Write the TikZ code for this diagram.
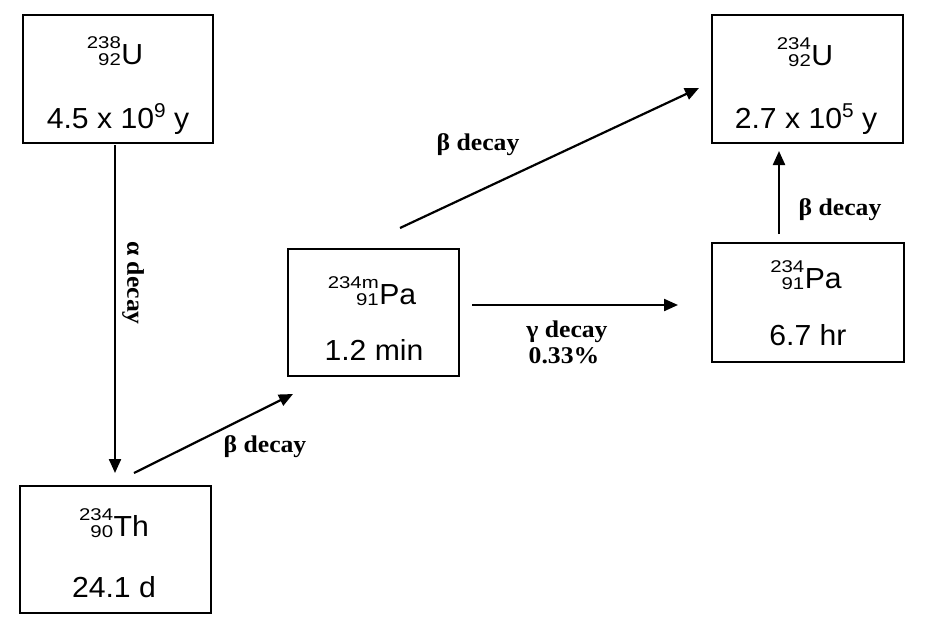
\documentclass[tikz,border=0pt]{standalone}
\usepackage{fontspec}
\setmainfont[FakeStretch=1.04]{Liberation Sans}
\newfontfamily\digfont[FakeStretch=1.2]{Liberation Sans}
\newfontfamily\lblfont[FakeStretch=1.07]{Liberation Serif}
\usetikzlibrary{arrows.meta}
\newcommand\smalldig{\digfont\fontsize{17}{17}\selectfont}
\newcommand\expdig{\fontsize{20}{20}\selectfont}
\newcommand\nuclide[3]{%
 \setbox0=\hbox{\smalldig #1}%
 \setbox2=\hbox{\smalldig #2}%
 \dimen0=\wd0 \ifdim\wd2>\dimen0 \dimen0=\wd2\fi
 \hbox to\dimen0{\hss\raise15.5pt\box0}\kern-\dimen0\hbox to\dimen0{\hss\lower1pt\box2}\kern0.5pt#3}
\newcommand\pw[1]{\raisebox{11pt}{\expdig #1}}
\begin{document}
\begin{tikzpicture}[x=1pt,y=-1pt,
  box/.style={draw=black, line width=2.6pt, inner sep=0pt},
  main/.style={font=\fontsize{29}{34}\selectfont, inner sep=0pt, anchor=base},
  lbl/.style={font=\lblfont\bfseries\fontsize{24}{26}\selectfont, inner sep=0pt, anchor=base},
  arr/.style={line width=2.2pt, -{Triangle[length=14pt,width=12pt]}}]
\useasboundingbox (0,0) rectangle (950,638);
\fill[white] (0,0) rectangle (950,638);
% boxes
\node[box, minimum width=190pt, minimum height=128pt] (u238) at (118,79) {};
\node[box, minimum width=191pt, minimum height=127pt] (th) at (115.5,549.5) {};
\node[box, minimum width=171pt, minimum height=127pt] (pam) at (373.5,312.5) {};
\node[box, minimum width=191pt, minimum height=128pt] (u234) at (807.5,79) {};
\node[box, minimum width=192pt, minimum height=119pt] (pa) at (808,302.5) {};
% texts
\node[main] (u238a) at (115,64) {\nuclide{238}{92}{U}};
\node[main] (u238b) at (118,128) {4.5 x 10\pw{9} y};
\node[main] (tha) at (114,536) {\nuclide{234}{90}{Th}};
\node[main] (thb) at (114,597) {24.1 d};
\node[main] (pama) at (372,304) {\nuclide{234m}{91}{Pa}};
\node[main] (pamb) at (374,360) {1.2 min};
\node[main] (u234a) at (805,65) {\nuclide{234}{92}{U}};
\node[main] (u234b) at (806,128) {2.7 x 10\pw{5} y};
\node[main] (paa) at (806,288) {\nuclide{234}{91}{Pa}};
\node[main] (pab) at (808,345) {6.7 hr};
% arrow end points
\coordinate (c1s) at (115,145);
\coordinate (c1e) at (115,473);
\coordinate (c2s) at (134,473);
\coordinate (c2e) at (293,394);
\coordinate (c3s) at (472,305);
\coordinate (c3e) at (678,305);
\coordinate (c4s) at (400,228);
\coordinate (c4e) at (699,88);
\coordinate (c5s) at (779,234);
\coordinate (c5e) at (779,151);
\draw[arr] (c1s) -- (c1e);
\draw[arr] (c2s) -- (c2e);
\draw[arr] (c3s) -- (c3e);
\draw[arr] (c4s) -- (c4e);
\draw[arr] (c5s) -- (c5e);
% labels
\node[lbl, anchor=center, rotate=-90] (l1) at (133,283) {α decay};
\node[lbl] (l2) at (265,452) {β decay};
\node[lbl] (l3a) at (567,337) {γ decay};
\node[lbl] (l3b) at (564,363) {0.33\%};
\node[lbl] (l4) at (478,150) {β decay};
\node[lbl] (l5) at (840,215) {β decay};
\end{tikzpicture}
\end{document}
